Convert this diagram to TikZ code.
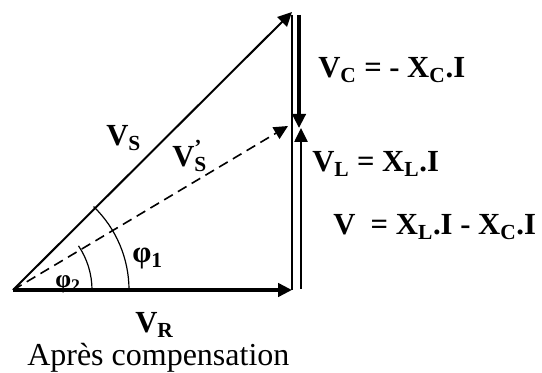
\documentclass[tikz,border=0pt]{standalone}
\usepackage{fontspec}
\setmainfont{Liberation Serif}
\usetikzlibrary{arrows.meta}

\begin{document}
\begin{tikzpicture}[x=0.75pt,y=0.75pt,
    vec/.style={-{Triangle[length=10.5pt,width=10pt]}},
    lbl/.style={font=\fontsize{23}{26}\selectfont\bfseries,inner sep=0pt,anchor=base west}]
  \useasboundingbox (0,0) rectangle (542,-373);
  \coordinate (O) at (13,-290);
  \coordinate (R) at (292,-290);
  \coordinate (S) at (292,-12);
  \coordinate (T) at (292,-15);
  \coordinate (Ct) at (299,-15);
  \coordinate (M) at (299,-128);
  \coordinate (Lb) at (301,-289);
  \coordinate (Lt) at (301,-128);
  \coordinate (P) at (288,-126);
  \draw[line width=1.1pt] (R) -- (T);
  \draw[vec,line width=3pt] (O) -- (R);
  \draw[vec,line width=1.5pt] (O) -- (S);
  \draw[vec,line width=1.2pt,dash pattern=on 7.5pt off 4.5pt] (O) -- (P);
  \draw[vec,line width=2.4pt] (Ct) -- (M);
  \draw[vec,line width=1.1pt] (Lb) -- (Lt);
  \draw[line width=0.9pt] (O) ++(87pt,0) arc[start angle=0,end angle=46,radius=87pt];
  \draw[line width=0.9pt] (O) ++(59.25pt,0) arc[start angle=0,end angle=34,radius=59.25pt];
  \node[lbl] (vs) at (106,-146) {V\textsubscript{S}};
  \node[lbl] (vsp) at (172,-167) {V\rlap{\textsuperscript{'}}\textsubscript{S}};
  \node[lbl] (phi1) at (132,-263) {φ\textsubscript{1}};
  \node[lbl,font=\fontsize{19}{22}\selectfont\bfseries] (phi2) at (55,-288) {φ\textsubscript{2}};
  \node[lbl] (vr) at (135,-333) {V\textsubscript{R}};
  \node[lbl,font=\fontsize{24}{27}\selectfont] (cap) at (27,-366) {Après compensation};
  \node[lbl] (vc) at (318,-78) {V\textsubscript{C} = - X\textsubscript{C}.I};
  \node[lbl] (vl) at (312,-172) {V\textsubscript{L} = X\textsubscript{L}.I};
  \node[lbl] (v) at (333,-235) {V\ \ = X\textsubscript{L}.I - X\textsubscript{C}.I};
\end{tikzpicture}
\end{document}
